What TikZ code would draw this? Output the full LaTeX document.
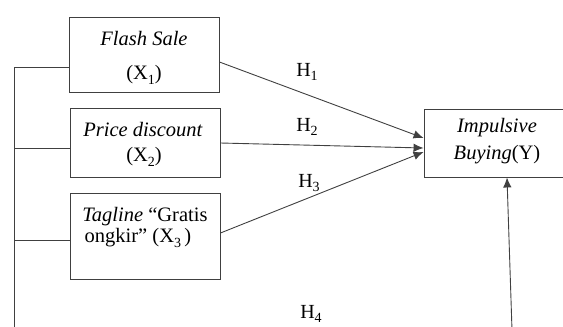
\documentclass[tikz,border=0pt]{standalone}
\usepackage{fontspec}
\setmainfont{Liberation Serif}
\usetikzlibrary{arrows.meta}
\newcommand{\sbs}[1]{\raisebox{-0.45ex}{\fontsize{14}{14}\selectfont #1}}
\begin{document}
\begin{tikzpicture}[x=1pt,y=-1pt,
  box/.style={draw=black!75,line width=0.9pt,minimum width=150pt,inner sep=0pt},
  txt/.style={inner sep=0pt,font=\fontsize{20.5}{24}\selectfont},
  lbl/.style={inner sep=0pt,font=\fontsize{20}{24}\selectfont},
  ln/.style={draw=black!75,line width=0.9pt},
  arr/.style={ln,-{Latex[length=10pt,width=8.5pt]}}]
\useasboundingbox (0,0) rectangle (563,327);
% boxes
\node[box,minimum height=75pt] (b1) at (144,54.5) {};
\node[box,minimum height=69pt] (b2) at (145,142.5) {};
\node[box,minimum height=86pt] (b3) at (145,236) {};
\node[box,minimum height=68pt,minimum width=180pt] (y) at (514,143) {};
% texts
\node[txt] (t1a) at (144,38) {\textit{Flash Sale}};
\node[txt] (t1b) at (144,75) {(X\sbs{1})};
\node[txt] (t2a) at (143,130) {\textit{Price discount}};
\node[txt] (t2b) at (144,157) {(X\sbs{2})};
\node[txt] (t3a) at (145,217) {\textit{Tagline} “Gratis};
\node[txt] (t3b) at (138,238) {ongkir” (X\sbs{3}\,)};
\node[txt] (ya) at (497,128) {\textit{Impulsive}};
\node[txt] (yb) at (497,155) {\textit{Buying}(Y)};
% hypothesis labels
\node[lbl] (h1) at (307,72) {H\sbs{1}};
\node[lbl] (h2) at (307,127) {H\sbs{2}};
\node[lbl] (h3) at (309,183) {H\sbs{3}};
\node[lbl] (h4) at (311,314) {H\sbs{4}};
% left spine
\coordinate (s1) at (14,67);
\coordinate (s2) at (14,148);
\coordinate (s3) at (14,240);
\coordinate (sb) at (14,330);
\draw[ln] (sb) -- (s1);
\draw[ln] (s1) -- (s1 -| b1.west);
\draw[ln] (s2) -- (s2 -| b2.west);
\draw[ln] (s3) -- (s3 -| b3.west);
% arrows
\draw[arr] ([yshift=-7.5pt]b1.east) -- ([yshift=5pt]y.west);
\draw[arr] ([yshift=-0.5pt]b2.east) -- ([yshift=-5pt]y.west);
\draw[arr] ([yshift=3pt]b3.east) -- ([yshift=-9pt]y.west);
\coordinate (vb) at (512,330);
\draw[arr] (vb) -- ([xshift=-7pt]y.south);
\end{tikzpicture}
\end{document}
